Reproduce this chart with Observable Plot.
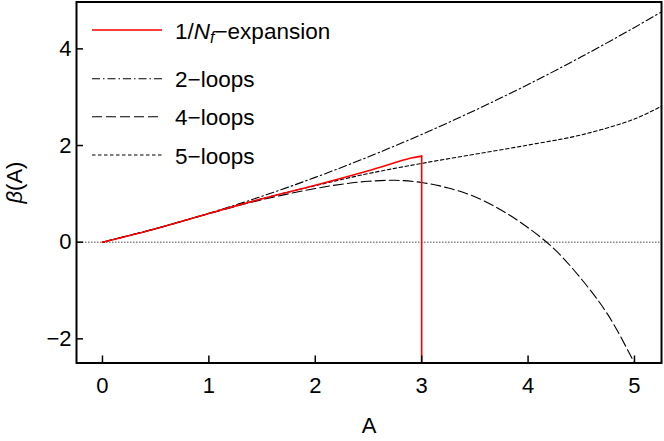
<!DOCTYPE html>
<html><head><meta charset="utf-8">
<script src="https://cdn.jsdelivr.net/npm/d3@7"></script>
<script src="https://cdn.jsdelivr.net/npm/@observablehq/plot@0.6"></script>
<style>
body{margin:0;background:#fff;font-family:"Liberation Sans",Arial,sans-serif;}
#wrap{position:relative;width:664px;height:441px;}
#legend{position:absolute;left:0;top:0;}
</style></head><body><div id="wrap"></div>
<script>
// ---- data ----
const A2 = [0,0.5,1,1.5,2,2.5,3,3.5,4,4.5,5,5.25];
const loops2 = [0,0.281,0.598,0.951,1.341,1.767,2.23,2.728,3.263,3.835,4.443,4.76];
const A5 = [0,0.5,1,1.5,2,2.5,3,3.5,4,4.5,5,5.25];
const loops5 = [0,0.28,0.595,0.9,1.17,1.42,1.63,1.82,2.01,2.22,2.55,2.81];
const A4 = [0,0.5,1,1.5,2,2.25,2.5,2.75,3,3.25,3.5,3.75,4,4.25,4.5,4.75,5,5.05];
const loops4 = [0,0.28,0.59,0.88,1.11,1.2,1.26,1.28,1.235,1.12,0.94,0.66,0.3,-0.15,-0.76,-1.5,-2.5,-2.72];
const ANf = [0,0.5,1,1.5,2,2.5,2.9,3];
const nfExp = [0,0.28,0.595,0.9,1.18,1.48,1.74,1.78];
const ANfDrop = [3,3];
const nfDrop = [1.78,-3];
const xTicks = [0,1,2,3,4,5];
const yTicks = [-2,0,2,4];
const legendLabels = ["1/Nf−expansion","2−loops","4−loops","5−loops"];

const zip = (xs, ys) => xs.map((x, i) => ({A: x, b: ys[i]}));
const font = '"Liberation Sans", Arial, sans-serif';
const minus = d => d < 0 ? "−" + Math.abs(d) : String(d);

const plot = Plot.plot({
  width: 664, height: 441,
  marginLeft: 76, marginRight: 3, marginTop: 1.5, marginBottom: 78.5,
  x: {domain: [-0.244, 5.254]},
  y: {domain: [-2.5, 4.97]},
  style: {fontFamily: font, fontSize: "22px", color: "#000", background: "#fff"},
  marks: [
    Plot.ruleY([0], {stroke: "#333", strokeWidth: 0.9, strokeDasharray: "1.5,1.5"}),
    Plot.line(zip(A2, loops2), {x: "A", y: "b", curve: "catmull-rom", stroke: "#000", strokeWidth: 1.1, strokeDasharray: "8,3,1.5,3", clip: true}),
    Plot.line(zip(A4, loops4), {x: "A", y: "b", curve: "catmull-rom", stroke: "#000", strokeWidth: 1.1, strokeDasharray: "10,4", clip: true}),
    Plot.line(zip(A5, loops5), {x: "A", y: "b", curve: "catmull-rom", stroke: "#000", strokeWidth: 1.1, strokeDasharray: "3.5,2.5", clip: true}),
    Plot.line(zip(ANf, nfExp), {x: "A", y: "b", curve: "catmull-rom", stroke: "#f00", strokeWidth: 1.6, clip: true}),
    Plot.line(zip(ANfDrop, nfDrop), {x: "A", y: "b", stroke: "#f00", strokeWidth: 1.6, clip: true}),
    Plot.frame({stroke: "#000", strokeWidth: 2}),
    Plot.axisX(xTicks, {tickSize: 7, dy: -7, fill: "none", strokeWidth: 1.5, label: null}),
    Plot.axisX(xTicks, {tickSize: 0, tickPadding: 14, fontSize: 22, tickFormat: minus, label: "A", labelAnchor: "center", labelOffset: 70, labelArrow: "none"}),
    Plot.axisY(yTicks, {tickSize: 7, dx: 7, fill: "none", strokeWidth: 1.5, label: null}),
    Plot.axisY(yTicks, {tickSize: 0, tickPadding: 5, fontSize: 22, tickFormat: minus, label: "β(A)", labelAnchor: "center", labelOffset: 70, labelArrow: "none"})
  ]
});
document.getElementById("wrap").appendChild(plot);

// italic beta in the y label
d3.select(plot).selectAll('g[aria-label="y-axis label"] text').each(function() {
  const t = d3.select(this);
  t.text("");
  t.append("tspan").attr("font-style", "italic").text("β");
  t.append("tspan").text("(A)");
});

// legend overlay
const legendRows = [
  {label: legendLabels[0], stroke: "#f00", dash: null, w: 1.6, y: 30},
  {label: legendLabels[1], stroke: "#000", dash: "8,3,1.5,3", w: 1.1, y: 78.7},
  {label: legendLabels[2], stroke: "#000", dash: "10,4", w: 1.1, y: 116.7},
  {label: legendLabels[3], stroke: "#000", dash: "3.5,2.5", w: 1.1, y: 155}
];
const leg = d3.select("#wrap").append("svg").attr("id", "legend")
  .attr("width", 360).attr("height", 175)
  .style("font-family", font).style("font-size", "22.5px");
legendRows.forEach((r, i) => {
  leg.append("line").attr("x1", 92).attr("x2", 162).attr("y1", r.y).attr("y2", r.y)
    .attr("stroke", r.stroke).attr("stroke-width", r.w).attr("stroke-dasharray", r.dash);
  const t = leg.append("text").attr("x", 175).attr("y", r.y + 8.5).attr("fill", "#000");
  if (i === 0) {
    t.append("tspan").text("1/");
    t.append("tspan").attr("font-style", "italic").text("N");
    t.append("tspan").attr("font-style", "italic").attr("font-size", "16px").attr("dy", 4).text("f");
    t.append("tspan").attr("dy", -4).text("−expansion");
  } else {
    t.text(r.label);
  }
});
</script></body></html>
